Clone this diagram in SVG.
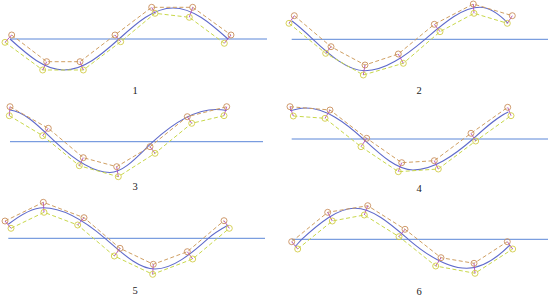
<svg xmlns="http://www.w3.org/2000/svg" width="550" height="298" viewBox="0 0 550 298">
<style>
.axis{stroke:#5a86d8;stroke-width:1;fill:none}
.curve{stroke:#5f6acb;stroke-width:1.1;fill:none}
.po{stroke:#cf9f62;stroke-width:1;stroke-dasharray:4,2.5;fill:none}
.py{stroke:#c8d84a;stroke-width:1;stroke-dasharray:4,2.5;fill:none}
.co{stroke:#c98f5c;stroke-width:0.9;fill:none}
.cy{stroke:#d2cc48;stroke-width:0.9;fill:none}
.tick{stroke:#b048c0;stroke-width:0.9}
.lbl{font-family:"Liberation Serif","Times New Roman",serif;font-size:10.5px;fill:#222;text-anchor:middle}
</style>
<rect width="550" height="298" fill="#fff"/>

<g id="panel1">
<line class="axis" x1="10" y1="39" x2="267" y2="39"/>
<path class="curve" d="M10,39 C27.6,54.9 44.5,70 64,70 C83.9,70 101.1,54.9 119,39 C136.6,23.1 153.5,8 173,8 C192.9,8 210.1,23.1 228,39"/>
<polyline class="po" points="11.7,35 46.7,61.7 80,61.7 115,35 151.7,7.3 192.7,7.3 231,35"/>
<polyline class="py" points="5,42.3 42.7,70 83.3,70 120.7,41.7 155,13.3 189.3,17.3 224.3,43.3"/>
<g class="tick">
<line x1="11.7" y1="35" x2="5" y2="42.3"/><line x1="46.7" y1="61.7" x2="42.7" y2="70"/><line x1="80" y1="61.7" x2="83.3" y2="70"/><line x1="115" y1="35" x2="120.7" y2="41.7"/><line x1="151.7" y1="7.3" x2="155" y2="13.3"/><line x1="192.7" y1="7.3" x2="189.3" y2="17.3"/><line x1="231" y1="35" x2="224.3" y2="43.3"/>
</g>
<g class="co"><circle cx="11.7" cy="35" r="3"/><circle cx="46.7" cy="61.7" r="3"/><circle cx="80" cy="61.7" r="3"/><circle cx="115" cy="35" r="3"/><circle cx="151.7" cy="7.3" r="3"/><circle cx="192.7" cy="7.3" r="3"/><circle cx="231" cy="35" r="3"/></g>
<g class="cy"><circle cx="5" cy="42.3" r="3"/><circle cx="42.7" cy="70" r="3"/><circle cx="83.3" cy="70" r="3"/><circle cx="120.7" cy="41.7" r="3"/><circle cx="155" cy="13.3" r="3"/><circle cx="189.3" cy="17.3" r="3"/><circle cx="224.3" cy="43.3" r="3"/></g>
<text class="lbl" x="135" y="94">1</text>
</g>

<g id="panel2">
<line class="axis" x1="291.7" y1="39.3" x2="548" y2="39.3"/>
<path class="curve" d="M292,21 C299,26.25 306,32.7 313,39.3 C330.3,55.6 347.7,70.7 365,70.7 C385,70.7 405,56.2 425,39.3 C443.3,23.8 461.7,7.3 480,7.3 C489.3,7.3 498.7,13.7 508,23.3"/>
<polyline class="po" points="294.3,15.7 331,46.7 365,65 398.3,54 434.3,24.3 473.3,4 512.3,15.7"/>
<polyline class="py" points="289,23.3 325.7,53.3 363.3,75 403.3,63.3 440,31.7 474,13.3 507.3,23.3"/>
<g class="tick">
<line x1="294.3" y1="15.7" x2="289" y2="23.3"/><line x1="331" y1="46.7" x2="325.7" y2="53.3"/><line x1="365" y1="65" x2="363.3" y2="75"/><line x1="398.3" y1="54" x2="403.3" y2="63.3"/><line x1="434.3" y1="24.3" x2="440" y2="31.7"/><line x1="473.3" y1="4" x2="474" y2="13.3"/><line x1="512.3" y1="15.7" x2="507.3" y2="23.3"/>
</g>
<g class="co"><circle cx="294.3" cy="15.7" r="3"/><circle cx="331" cy="46.7" r="3"/><circle cx="365" cy="65" r="3"/><circle cx="398.3" cy="54" r="3"/><circle cx="434.3" cy="24.3" r="3"/><circle cx="473.3" cy="4" r="3"/><circle cx="512.3" cy="15.7" r="3"/></g>
<g class="cy"><circle cx="289" cy="23.3" r="3"/><circle cx="325.7" cy="53.3" r="3"/><circle cx="363.3" cy="75" r="3"/><circle cx="403.3" cy="63.3" r="3"/><circle cx="440" cy="31.7" r="3"/><circle cx="474" cy="13.3" r="3"/><circle cx="507.3" cy="23.3" r="3"/></g>
<text class="lbl" x="419" y="94">2</text>
</g>

<g id="panel3">
<line class="axis" x1="10" y1="141.7" x2="263" y2="141.7"/>
<path class="curve" d="M10,110 C25,111.5 40,127.45 55,141.7 C73.3,159.1 91.7,172.5 110,172.5 C124.3,172.5 138.7,154.9 153,141.7 C174,122.4 195,109.5 216,109.5 C219.6,109.5 223.1,109.8 226.7,110.5"/>
<polyline class="po" points="10,106.7 48.3,128.3 83.3,157.7 116.7,166.7 150,146.7 187.3,116.7 226.7,106.7"/>
<polyline class="py" points="9.3,115.7 42.7,135.7 79.3,165.7 118.3,176.7 155,153.3 191.7,123.3 224,115.7"/>
<g class="tick">
<line x1="10" y1="106.7" x2="9.3" y2="115.7"/><line x1="48.3" y1="128.3" x2="42.7" y2="135.7"/><line x1="83.3" y1="157.7" x2="79.3" y2="165.7"/><line x1="116.7" y1="166.7" x2="118.3" y2="176.7"/><line x1="150" y1="146.7" x2="155" y2="153.3"/><line x1="187.3" y1="116.7" x2="191.7" y2="123.3"/><line x1="226.7" y1="106.7" x2="224" y2="115.7"/>
</g>
<g class="co"><circle cx="10" cy="106.7" r="3"/><circle cx="48.3" cy="128.3" r="3"/><circle cx="83.3" cy="157.7" r="3"/><circle cx="116.7" cy="166.7" r="3"/><circle cx="150" cy="146.7" r="3"/><circle cx="187.3" cy="116.7" r="3"/><circle cx="226.7" cy="106.7" r="3"/></g>
<g class="cy"><circle cx="9.3" cy="115.7" r="3"/><circle cx="42.7" cy="135.7" r="3"/><circle cx="79.3" cy="165.7" r="3"/><circle cx="118.3" cy="176.7" r="3"/><circle cx="155" cy="153.3" r="3"/><circle cx="191.7" cy="123.3" r="3"/><circle cx="224" cy="115.7" r="3"/></g>
<text class="lbl" x="135" y="190">3</text>
</g>

<g id="panel4">
<line class="axis" x1="291.7" y1="139" x2="548" y2="139"/>
<path class="curve" d="M290,110.5 C295.3,109.7 300.7,108 306,108 C325.1,108 344.2,121.6 363.3,139 C379.9,154.1 396.4,170 413,170 C433,170 453,156.4 473,139 C484.8,128.2 496.5,117.4 508.3,112"/>
<polyline class="po" points="290,106.7 330,110 366.7,138.3 401.7,162.7 434.3,160.7 471,133.3 507.7,107.3"/>
<polyline class="py" points="293.3,116 325,118.3 361,146.7 398.3,171.7 438.3,169 475.7,141 511,115.7"/>
<g class="tick">
<line x1="290" y1="106.7" x2="293.3" y2="116"/><line x1="330" y1="110" x2="325" y2="118.3"/><line x1="366.7" y1="138.3" x2="361" y2="146.7"/><line x1="401.7" y1="162.7" x2="398.3" y2="171.7"/><line x1="434.3" y1="160.7" x2="438.3" y2="169"/><line x1="471" y1="133.3" x2="475.7" y2="141"/><line x1="507.7" y1="107.3" x2="511" y2="115.7"/>
</g>
<g class="co"><circle cx="290" cy="106.7" r="3"/><circle cx="330" cy="110" r="3"/><circle cx="366.7" cy="138.3" r="3"/><circle cx="401.7" cy="162.7" r="3"/><circle cx="434.3" cy="160.7" r="3"/><circle cx="471" cy="133.3" r="3"/><circle cx="507.7" cy="107.3" r="3"/></g>
<g class="cy"><circle cx="293.3" cy="116" r="3"/><circle cx="325" cy="118.3" r="3"/><circle cx="361" cy="146.7" r="3"/><circle cx="398.3" cy="171.7" r="3"/><circle cx="438.3" cy="169" r="3"/><circle cx="475.7" cy="141" r="3"/><circle cx="511" cy="115.7" r="3"/></g>
<text class="lbl" x="419" y="192">4</text>
</g>

<g id="panel5">
<line class="axis" x1="8.3" y1="238.3" x2="265" y2="238.3"/>
<path class="curve" d="M8.3,224.3 C20,215.2 31.6,207.7 43.3,207.7 C63.9,207.7 84.4,220.6 105,238.3 C121.7,252.6 138.3,269 155,269 C172.8,269 190.5,254.3 208.3,238.3 C215,232.3 221.6,228.7 228.3,225"/>
<polyline class="po" points="5,221 43.3,202.3 84,217.7 120,248.3 153.3,264.3 187.3,251.7 224,220.7"/>
<polyline class="py" points="11,228.3 44,212.3 77.7,225 114.3,256 152.7,274.3 192.7,259 229.3,228.3"/>
<g class="tick">
<line x1="5" y1="221" x2="11" y2="228.3"/><line x1="43.3" y1="202.3" x2="44" y2="212.3"/><line x1="84" y1="217.7" x2="77.7" y2="225"/><line x1="120" y1="248.3" x2="114.3" y2="256"/><line x1="153.3" y1="264.3" x2="152.7" y2="274.3"/><line x1="187.3" y1="251.7" x2="192.7" y2="259"/><line x1="224" y1="220.7" x2="229.3" y2="228.3"/>
</g>
<g class="co"><circle cx="5" cy="221" r="3"/><circle cx="43.3" cy="202.3" r="3"/><circle cx="84" cy="217.7" r="3"/><circle cx="120" cy="248.3" r="3"/><circle cx="153.3" cy="264.3" r="3"/><circle cx="187.3" cy="251.7" r="3"/><circle cx="224" cy="220.7" r="3"/></g>
<g class="cy"><circle cx="11" cy="228.3" r="3"/><circle cx="44" cy="212.3" r="3"/><circle cx="77.7" cy="225" r="3"/><circle cx="114.3" cy="256" r="3"/><circle cx="152.7" cy="274.3" r="3"/><circle cx="192.7" cy="259" r="3"/><circle cx="229.3" cy="228.3" r="3"/></g>
<text class="lbl" x="135" y="294">5</text>
</g>

<g id="panel6">
<line class="axis" x1="291.7" y1="239.3" x2="548" y2="239.3"/>
<path class="curve" d="M295,246.7 C297.2,244.7 299.5,241.3 301.7,239.3 C319.5,223.1 337.2,208.3 355,208.3 C372.8,208.3 390.5,224 408.3,239.3 C427.8,256 447.2,268.3 466.7,268.3 C481.1,268.3 497,258 510,245"/>
<polyline class="po" points="291.7,241.7 327.7,212.3 367.7,205.7 405,229.3 441,257.7 474,263.3 507.3,241.7"/>
<polyline class="py" points="297.7,249 332.3,221 364.3,215 399,236.7 435.7,266 475,273.3 512.7,249"/>
<g class="tick">
<line x1="291.7" y1="241.7" x2="297.7" y2="249"/><line x1="327.7" y1="212.3" x2="332.3" y2="221"/><line x1="367.7" y1="205.7" x2="364.3" y2="215"/><line x1="405" y1="229.3" x2="399" y2="236.7"/><line x1="441" y1="257.7" x2="435.7" y2="266"/><line x1="474" y1="263.3" x2="475" y2="273.3"/><line x1="507.3" y1="241.7" x2="512.7" y2="249"/>
</g>
<g class="co"><circle cx="291.7" cy="241.7" r="3"/><circle cx="327.7" cy="212.3" r="3"/><circle cx="367.7" cy="205.7" r="3"/><circle cx="405" cy="229.3" r="3"/><circle cx="441" cy="257.7" r="3"/><circle cx="474" cy="263.3" r="3"/><circle cx="507.3" cy="241.7" r="3"/></g>
<g class="cy"><circle cx="297.7" cy="249" r="3"/><circle cx="332.3" cy="221" r="3"/><circle cx="364.3" cy="215" r="3"/><circle cx="399" cy="236.7" r="3"/><circle cx="435.7" cy="266" r="3"/><circle cx="475" cy="273.3" r="3"/><circle cx="512.7" cy="249" r="3"/></g>
<text class="lbl" x="419" y="295">6</text>
</g>
</svg>
